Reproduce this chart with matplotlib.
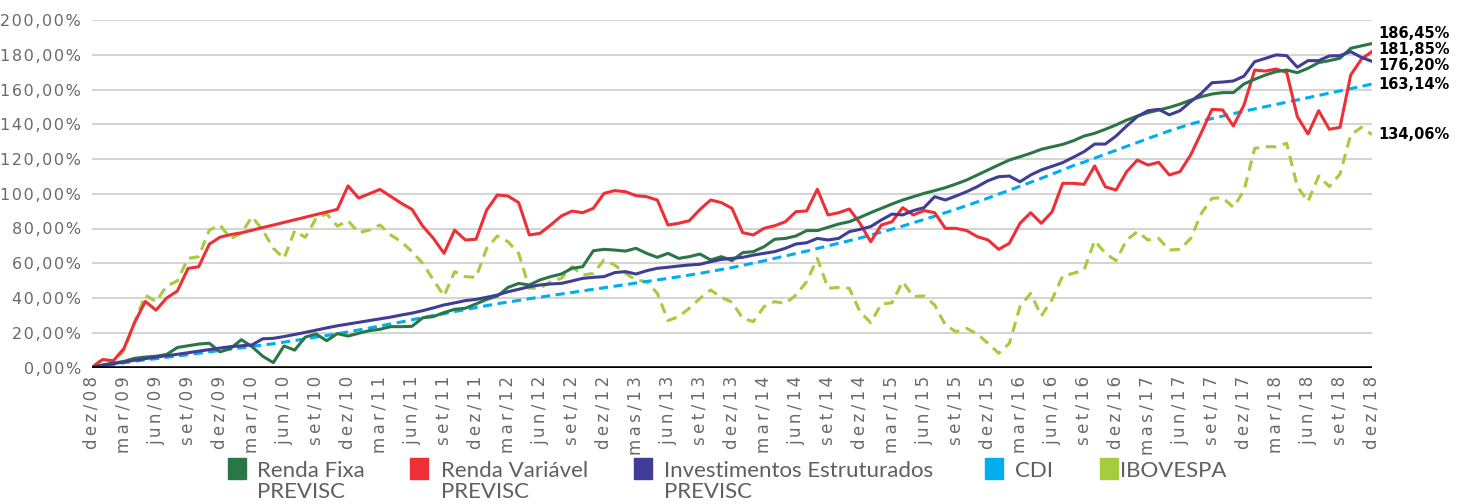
import numpy as np
import matplotlib
matplotlib.use("Agg")
import matplotlib.pyplot as plt
from matplotlib.patches import Rectangle

# monthly accumulated returns (%), dez/08 .. dez/18
renda_fixa = [0, 1.5, 2.5, 3.5, 5.3, 6, 6.5, 7.5, 11.5, 12.5,
              13.5, 14, 9, 11, 16, 12, 6.5, 2.8, 12.4, 10,
              17.5, 19.3, 15.4, 19.5, 18.1, 19.7, 21.2, 22, 23.5, 23.5,
              23.7, 28.6, 29.3, 31.6, 33.5, 34.1, 36.6, 39.2, 41.1, 46.1,
              48.4, 47.5, 50.4, 52.3, 53.8, 57.1, 58, 67.2, 68, 67.6,
              67, 68.6, 65.7, 63.4, 65.7, 62.8, 63.8, 65.3, 61.9, 63.8,
              61.5, 66.1, 66.7, 69.5, 73.8, 74.3, 75.7, 78.8, 78.8, 80.7,
              82.6, 83.9, 86.4, 89.1, 91.6, 94.1, 96.4, 98.3, 100.2, 101.8,
              103.5, 105.6, 107.9, 110.8, 113.7, 116.6, 119.4, 121.3, 123.3, 125.6,
              127, 128.4, 130.5, 133.2, 134.8, 137.1, 139.6, 142.4, 144.7, 146.7,
              148.2, 149.7, 151.6, 153.9, 155.9, 157.4, 158.2, 158.2, 163.2, 165.9,
              168.3, 170.3, 171.2, 169.7, 172.2, 175.5, 176.6, 178, 183.7, 185.1, 186.45]

renda_variavel = [0, 4.6, 3.9, 11, 26, 38, 33, 40, 44, 57,
                  58, 71, 75, 76.5, 77.5, 79, 80.5, 82, 83.5, 85,
                  86.5, 88, 89.5, 91, 104.5, 97.5, 100, 102.5, 98.5, 94.5,
                  91, 81.4, 74.4, 65.7, 79.1, 73.4, 73.8, 90.6, 99.3, 98.7,
                  94.9, 76.3, 77.2, 82, 87.2, 90, 89.1, 91.6, 100.2, 101.8,
                  101.2, 98.9, 98.3, 96.4, 82, 83, 84.5, 91, 96.4, 94.9,
                  91.6, 77.6, 76.3, 80.1, 81.6, 83.9, 89.7, 90.1, 102.6, 87.8,
                  89.1, 91.2, 83, 72.4, 82, 83.9, 92, 87.8, 90.3, 89.1,
                  80.1, 80.1, 78.8, 75.3, 73.4, 68, 71.5, 83, 89.1, 83,
                  89.5, 106, 106, 105.4, 116, 104, 102.1, 112.7, 119.4, 116.5,
                  118.1, 110.8, 112.7, 122.3, 135.2, 148.6, 148.2, 139, 151.1, 171.2,
                  170.6, 171.8, 169.9, 144.4, 134.4, 147.8, 137.1, 138.2, 168.3, 177.4, 181.85]

estruturados = [0, 1.2, 2.2, 3.2, 4.2, 5.1, 6, 6.8, 7.6, 8.5,
                9.4, 10.3, 11.2, 12, 12.5, 13, 16.5, 16.8, 17.8, 19,
                20.2, 21.5, 22.8, 24, 25, 26, 27, 28, 29, 30.2,
                31.3, 32.7, 34.3, 36, 37.2, 38.5, 39.2, 40.4, 41.7, 43.6,
                45, 46.5, 47.5, 48.1, 48.4, 49.8, 51.3, 51.9, 52.3, 54.6,
                55.2, 53.8, 55.7, 57.1, 57.7, 58.4, 59, 59.4, 60.9, 62.2,
                62.8, 63.4, 64.7, 65.7, 66.7, 68.6, 71.1, 71.8, 74.3, 73.4,
                74.3, 78.2, 79.5, 81.1, 84.9, 88.3, 87.8, 90.3, 92, 98.3,
                96.4, 98.7, 101.2, 104.1, 107.5, 109.8, 110.2, 106.9, 110.8, 113.7,
                115.8, 117.9, 121, 124.2, 128.6, 128.6, 133.2, 139, 144.4, 147.8,
                148.6, 145.4, 147.8, 153, 157.8, 163.9, 164.3, 164.9, 167.7, 176,
                177.9, 179.9, 179.5, 172.8, 176.6, 176.6, 179.3, 179.5, 181.8, 178.5, 176.2]

cdi = [0, 1.0, 1.8, 2.7, 3.6, 4.4, 5.1, 5.9, 6.6, 7.4,
       8.2, 9.0, 9.8, 10.6, 11.3, 12.2, 12.9, 13.7, 14.6, 15.5,
       16.5, 17.5, 18.4, 19.4, 20.5, 21.6, 22.7, 23.9, 25.1, 26.2,
       27.5, 28.7, 29.9, 31.0, 32.2, 33.3, 34.5, 35.6, 36.7, 37.7,
       38.6, 39.6, 40.5, 41.4, 42.3, 43.2, 44.1, 45.0, 45.9, 46.8,
       47.7, 48.6, 49.5, 50.4, 51.3, 52.2, 53.2, 54.2, 55.3, 56.4,
       57.5, 58.8, 60.1, 61.4, 62.8, 64.2, 65.6, 67.0, 68.5, 70.0,
       71.5, 73.0, 74.5, 76.2, 77.9, 79.6, 81.4, 83.3, 85.2, 87.1,
       89.1, 91.1, 93.2, 95.3, 97.5, 99.8, 102.0, 104.3, 106.6, 108.9,
       111.3, 113.7, 116.2, 118.2, 120.5, 122.8, 125.0, 127.3, 129.5, 131.8,
       134.0, 136.2, 138.2, 140.1, 141.8, 143.3, 144.7, 146.1, 147.5, 148.8,
       150.1, 151.4, 152.7, 154.0, 155.3, 156.6, 157.9, 159.2, 160.5, 161.8, 163.14]

ibovespa = [0, 5.3, 2.4, 10, 26, 41.7, 37.9, 46.9, 49.8, 62.8,
            63.8, 79.1, 82, 74.3, 77.2, 86.8, 79.1, 68.6, 62.8, 78.7,
            74.9, 85.8, 88.4, 81.4, 84.5, 77.6, 79.1, 82, 76.3, 72.4,
            66.7, 60, 50.4, 41.2, 55.2, 52.3, 51.9, 68.6, 75.7, 72.4,
            65.7, 45.6, 45.6, 49.4, 51.3, 58, 53.2, 54.2, 61.9, 59,
            54.2, 50.4, 49.4, 42.7, 27, 29.3, 34.1, 39.8, 44.6, 40.4,
            37.6, 28.3, 26.4, 35, 37.9, 36.9, 41.7, 49.4, 62.8, 45.6,
            46.1, 45.6, 32.1, 25.8, 36.5, 37.3, 49.4, 40.8, 41.2, 36,
            24.5, 20.6, 22.5, 19.3, 13.9, 8.2, 13.9, 35, 42.7, 29.7,
            39, 52.7, 54.2, 56.1, 73, 65.7, 61.5, 73.4, 78.2, 73.4,
            74.3, 67.6, 68, 74.3, 88.7, 97.4, 97.7, 92.2, 101.8, 126.1,
            127.1, 127.1, 129, 104.1, 95.5, 110.2, 104.1, 111.4, 133.8, 138.2, 134.06]

tick_labels = ["dez/08", "mar/09", "jun/09", "set/09", "dez/09", "mar/10", "jun/10",
               "set/10", "dez/10", "mar/11", "jun/11", "set/11", "dez/11", "mar/12",
               "jun/12", "set/12", "dez/12", "mas/13", "jun/13", "set/13", "dez/13",
               "mar/14", "jun/14", "set/14", "dez/14", "mar/15", "jun/15", "set/15",
               "dez/15", "mar/16", "jun/16", "set/16", "dez/16", "mas/17", "jun/17",
               "set/17", "dez/17", "mar/18", "jun/18", "set/18", "dez/18"]

legend_labels = ["Renda Fixa\nPREVISC", "Renda Variável\nPREVISC",
                 "Investimentos Estruturados\nPREVISC", "CDI", "IBOVESPA"]


def spaced(s, sep="\u200a"):
    # mimic the wide letter spacing of the original tick font
    return sep.join(s)


W, H = 1461, 504
plt.rcParams["font.family"] = ["DejaVu Sans"]
fig = plt.figure(figsize=(W / 100, H / 100), dpi=100)
ax = fig.add_axes([92 / W, 1 - 367.5 / H, 1280 / W, 347.5 / H])

x = np.arange(len(renda_fixa))
c_green, c_red, c_blue, c_cdi, c_ibov = "#2b7646", "#ee2f36", "#3f3d95", "#00aeef", "#a6cb3e"

ax.plot(x, ibovespa, color=c_ibov, lw=2.2, dashes=(3.4, 2.2), zorder=3)
ax.plot(x, cdi, color=c_cdi, lw=2.2, dashes=(3, 1.8), zorder=4)
ax.plot(x, renda_variavel, color=c_red, lw=2.2, zorder=5)
ax.plot(x, renda_fixa, color=c_green, lw=2.2, zorder=6)
ax.plot(x, estruturados, color=c_blue, lw=2.2, zorder=7)

ax.set_xlim(0, 120)
ax.set_ylim(0, 200)
ax.set_yticks(range(0, 201, 20))
ax.set_yticklabels([spaced(f"{v:.2f}%".replace(".", ",")) for v in range(0, 201, 20)])
ax.yaxis.grid(True, color="#d5d5d5", lw=1.5)
ax.set_axisbelow(True)
for s in ax.spines.values():
    s.set_visible(False)
ax.axhline(0, color="black", lw=2.6, zorder=8)

ax.set_xticks(x[::3])
ax.set_xticklabels([spaced(t, "\u2009") for t in tick_labels], rotation=90, va="top", ha="center")
ax.tick_params(axis="both", length=0, colors="#6a6a6a", labelsize=11.5)
ax.tick_params(axis="x", labelsize=12, pad=6)
ax.tick_params(axis="y", pad=8)

# end values
ends = [renda_fixa[-1], renda_variavel[-1], estruturados[-1], cdi[-1], ibovespa[-1]]
end_offsets = [7.5, 1.8, -2.7, 0, 0]
for v, dy in zip(ends, end_offsets):
    ax.annotate(f"{v:.2f}%".replace(".", ","), xy=(120, v), xytext=(4.5, dy),
                textcoords="offset points", ha="left", va="center",
                fontsize=10.5, fontweight="bold", color="black", annotation_clip=False)

# legend
colors = [c_green, c_red, c_blue, c_cdi, c_ibov]
square_x = [228, 410, 634, 985, 1100]
text_x = [257, 441, 664, 1015, 1120]
for col, lab, sx, tx in zip(colors, legend_labels, square_x, text_x):
    fig.patches.append(Rectangle((sx / W, 1 - 479 / H), 18 / W, 21 / H,
                                 transform=fig.transFigure, color=col))
    fig.text(tx / W, 1 - 461 / H, lab, ha="left", va="top", fontsize=16,
             family="Lato", color="#5f5f5f", linespacing=1.05)

fig.savefig("out.png", dpi=100)
